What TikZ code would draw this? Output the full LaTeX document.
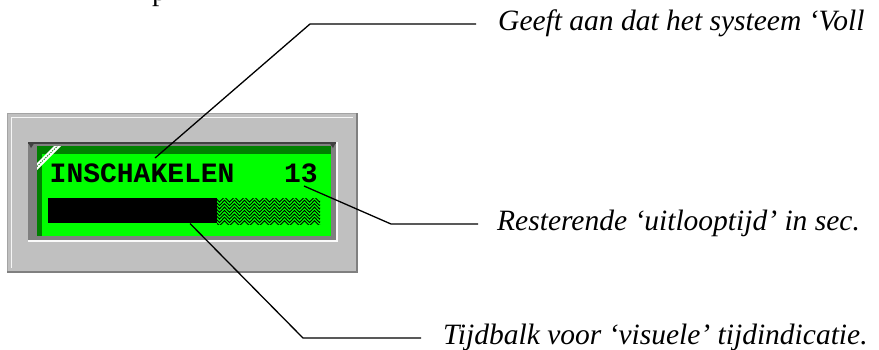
\documentclass[tikz,border=0pt]{standalone}
\usepackage{fontspec}
\setmainfont{Liberation Serif}
\newfontfamily\lcdfont{Liberation Mono}
\usetikzlibrary{decorations.pathmorphing}
\definecolor{panelgray}{HTML}{C0C0C0}
\definecolor{panelrim}{HTML}{A4A4A4}
\definecolor{shadowgray}{HTML}{808080}
\definecolor{lcdgreen}{HTML}{00FF00}
\definecolor{lcddark}{HTML}{008000}
\tikzset{
  lead/.style={draw=black, line width=1.3pt, line join=miter},
  lbl/.style={font=\itshape\fontsize{29.5}{29.5}\selectfont, anchor=base west, inner sep=0pt},
  lcdtext/.style={font=\lcdfont\bfseries\fontsize{28}{28}\selectfont, inner sep=0pt},
  hatchrow/.style={draw=black, line width=0.9pt, decorate,
    decoration={zigzag, segment length=10pt, amplitude=2.6pt}}
}
\begin{document}
\begin{tikzpicture}[x=1pt,y=-1pt]
\useasboundingbox (0,0) rectangle (879,349);
\clip (0,0) rectangle (879,349);
\fill[white] (0,0) rectangle (879,349);

% fragment of a line of text above the picture
\node[font=\fontsize{29}{29}\selectfont, anchor=base west, inner sep=0pt] (ptop) at (152,0) {p};

% outer grey panel
\fill[panelgray] (7,113) rectangle (357,273);
\draw[panelrim, line width=1.2pt] (7.6,113.6) rectangle (356.4,272.4);
\draw[shadowgray, line width=2.2pt] (7,271.9) -- (356.9,271.9) -- (356.9,113);
\draw[white!85!panelgray, line width=1.2pt] (11.5,268) -- (11.5,117.5) -- (353,117.5);

% recess of the display
\fill[shadowgray] (28,142) rectangle (336,240);
\draw[white!92!panelgray, line width=2pt] (28,240.5) -- (336.5,240.5) -- (336.5,142);
\draw[black!75, line width=2pt] (28,143) -- (336,143);
\fill[black!75] (28,142) -- (35,142) -- (31,148) -- cycle;
\fill[black!75] (336,142) -- (329,142) -- (333,148) -- cycle;

% LCD glass
\fill[lcdgreen] (37,146) rectangle (331,236);
\fill[lcddark] (37,146) rectangle (331,154);
\fill[lcddark] (37,146) rectangle (41.5,236);
\begin{scope}
  \clip (37,146) rectangle (331,236);
  \fill[white] (37,163) -- (54,146) -- (61,146) -- (37,170) -- cycle;
  \draw[lcddark, line width=0.8pt, dash pattern=on 1.2pt off 1.2pt] (37,166.5) -- (57.5,146);
\end{scope}

% LCD content
\node[lcdtext, anchor=base west] (mode) at (49.5,182) {INSCHAKELEN};
\node[lcdtext, anchor=base east] (secs) at (318,182) {13};
\fill[black] (48,198) rectangle (217,223);
\node[inner sep=0pt, minimum width=169pt, minimum height=25pt, anchor=north west] (bar) at (48,198) {};
\begin{scope}
  \clip (217,198) rectangle (320,224);
  \foreach \r in {0,...,7}{
    \draw[hatchrow] (212,{199.5+3.4*\r}) -- (332,{199.5+3.4*\r});
  }
\end{scope}

% callout labels
\node[lbl] (lab1) at (498,30) {Geeft aan dat het systeem ‘Voll};
\node[lbl] (lab2) at (497,230) {Resterende ‘uitlooptijd’ in sec.};
\node[lbl] (lab3) at (443,344) {Tijdbalk voor ‘visuele’ tijdindicatie.};

% leader lines
\coordinate (s1) at (155,158);
\coordinate (e1) at (310,24);
\coordinate (h1) at (476,24);
\coordinate (s2) at (304,186);
\coordinate (e2) at (391,224);
\coordinate (h2) at (478,224);
\coordinate (s3) at (190,223.5);
\coordinate (e3) at (303,338);
\coordinate (h3) at (421,338);
\draw[lead] (s1) -- (e1) -- (h1);
\draw[lead] (s2) -- (e2) -- (h2);
\draw[lead] (s3) -- (e3) -- (h3);
\end{tikzpicture}
\end{document}
